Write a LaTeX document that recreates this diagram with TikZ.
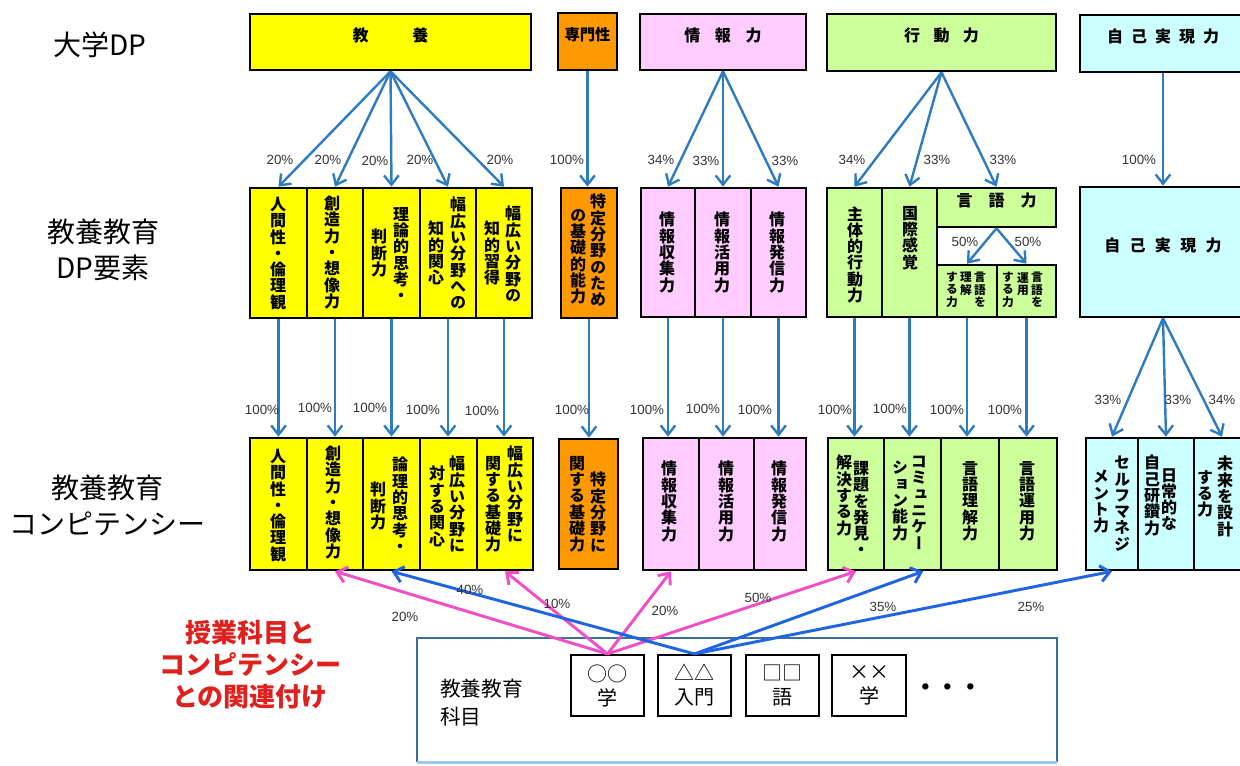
\documentclass[tikz,border=0pt]{standalone}
\usepackage{fontspec}
\setmainfont{Noto Sans CJK JP}
\newfontfamily\tatefont[RawFeature=+vert]{Noto Sans CJK JP}
\newfontfamily\pctfont{Liberation Sans}
\usetikzlibrary{arrows.meta,fit}

\ExplSyntaxOn
\NewDocumentCommand\tate{m}
 {
  \seq_clear:N \l_tmpa_seq
  \tl_map_inline:nn {#1} { \seq_put_right:Nn \l_tmpa_seq {##1} }
  \seq_use:Nn \l_tmpa_seq { \\ }
 }
\ExplSyntaxOff

\definecolor{kyel}{HTML}{FFFF00}
\definecolor{korg}{HTML}{FF9900}
\definecolor{kpnk}{HTML}{FFCCFF}
\definecolor{kgrn}{HTML}{CCFF99}
\definecolor{kcyn}{HTML}{CCFFFF}
\definecolor{arrblue}{HTML}{2E7BBF}
\definecolor{linkpink}{HTML}{F04FC6}
\definecolor{linkblue}{HTML}{1F64E0}
\definecolor{pctgray}{HTML}{333333}
\definecolor{redtxt}{HTML}{E0201C}
\definecolor{frameblue}{HTML}{3E6F9B}
\definecolor{framelight}{HTML}{9CC8EC}

\tikzset{
 box/.style={draw=black, line width=2pt, inner sep=0pt},
 vt/.style={font=\tatefont\bfseries\fontsize{12}{12.2}\selectfont, align=center, inner sep=0pt, anchor=north},
 vts/.style={font=\tatefont\bfseries\fontsize{8.8}{9.2}\selectfont, align=center, inner sep=0pt, anchor=north},
 hl/.style={font=\bfseries\fontsize{12}{14}\selectfont},
 pct/.style={font=\pctfont\fontsize{10}{12}\selectfont, text=pctgray, inner sep=0pt},
 topar/.style={draw=arrblue, line width=1.8pt, -{Straight Barb[length=7pt,width=11pt]}},
 pinkar/.style={draw=linkpink, line width=2.2pt, -{Straight Barb[length=7pt,width=12pt]}},
 bluear/.style={draw=linkblue, line width=2.2pt, -{Straight Barb[length=7pt,width=12pt]}},
 sidelbl/.style={font=\fontsize{21}{27}\selectfont, align=center},
 subj/.style={draw=black, line width=1.6pt, inner sep=0pt, font=\fontsize{15}{18}\selectfont, align=center},
}

\begin{document}
\begin{tikzpicture}[x=0.75pt,y=-0.75pt]
\useasboundingbox (0,0) rectangle (1240,765);
\clip (0,0) rectangle (1240,765);
\fill[white] (0,0) rectangle (1240,765);

% ---------- left labels
\node[sidelbl] (lblA) at (100,45) {大学DP};
\node[sidelbl] (lblB) at (103,250) {教養教育\\DP要素};
\node[sidelbl] (lblC) at (108,505) {教養教育\\コンピテンシー};

% ---------- top row
\node[box, fill=kyel, fit={(250,14) (531,70)}, hl] (kyoyo) {教\hspace{33pt}養};
\node[box, fill=korg, fit={(558,13) (617,70)}, font=\bfseries\fontsize{11.5}{13}\selectfont] (senmon) {専門性};
\node[box, fill=kpnk, fit={(640,14) (806,70)}, hl] (joho) {情\hspace{11pt}報\hspace{11pt}力};
\node[box, fill=kgrn, fit={(827,14) (1056,71)}, hl] (kodo) {行\hspace{10pt}動\hspace{10pt}力};
\node[box, fill=kcyn, fit={(1080,15) (1246,72)}, hl] (jiko) {自\hspace{6pt}己\hspace{6pt}実\hspace{6pt}現\hspace{6pt}力};

% ---------- middle row (DP elements)
\node[box, fill=kyel, fit={(250,188) (307,318)}] (m1) {};
\node[box, fill=kyel, fit={(307,188) (363,318)}] (m2) {};
\node[box, fill=kyel, fit={(363,188) (420,318)}] (m3) {};
\node[box, fill=kyel, fit={(420,188) (476,318)}] (m4) {};
\node[box, fill=kyel, fit={(476,188) (532,318)}] (m5) {};
\node[box, fill=korg, fit={(561,188) (617,318)}] (m6) {};
\node[box, fill=kpnk, fit={(641,188) (695,317)}] (m7) {};
\node[box, fill=kpnk, fit={(695,188) (751,317)}] (m8) {};
\node[box, fill=kpnk, fit={(751,188) (806,317)}] (m9) {};
\node[box, fill=kgrn, fit={(827,188) (882,317)}] (m10) {};
\node[box, fill=kgrn, fit={(882,188) (937,317)}] (m11) {};
\node[box, fill=kgrn, fit={(937,188) (1056,227)}, hl] (gen) {言\hspace{12pt}語\hspace{12pt}力};
\node[box, fill=kgrn, fit={(937,265) (997,317)}] (s1) {};
\node[box, fill=kgrn, fit={(997,265) (1056,317)}] (s2) {};
\node[box, fill=kcyn, fit={(1080,187) (1246,317)}, hl] (mj) {自\hspace{7pt}己\hspace{7pt}実\hspace{7pt}現\hspace{7pt}力};

\node[vt] (m1a) at (278,197) {\tate{人間性・倫理観}};
\node[vt] (m2a) at (332,196) {\tate{創造力・想像力}};
\node[vt] (m3a) at (401,207) {\tate{理論的思考・}};
\node[vt] (m3b) at (379,229) {\tate{判断力}};
\node[vt] (m4a) at (458,197) {\tate{幅広い分野への}};
\node[vt] (m4b) at (436,221) {\tate{知的関心}};
\node[vt] (m5a) at (513,206) {\tate{幅広い分野の}};
\node[vt] (m5b) at (492,221) {\tate{知的習得}};
\node[vt] (m6a) at (598,194) {\tate{特定分野のため}};
\node[vt] (m6b) at (578,209) {\tate{の基礎的能力}};
\node[vt] (m7a) at (667,212) {\tate{情報収集力}};
\node[vt] (m8a) at (722,212) {\tate{情報活用力}};
\node[vt] (m9a) at (777,212) {\tate{情報発信力}};
\node[vt] (m10a) at (855,206) {\tate{主体的行動力}};
\node[vt] (m11a) at (910,206) {\tate{国際感覚}};
\node[vts] (s1a) at (980,272) {\tate{言語を}};
\node[vts] (s1b) at (966,272) {\tate{理解}};
\node[vts] (s1c) at (952,272) {\tate{する力}};
\node[vts] (s2a) at (1037,272) {\tate{言語を}};
\node[vts] (s2b) at (1023,272) {\tate{運用}};
\node[vts] (s2c) at (1008,272) {\tate{する力}};

% ---------- bottom row (competencies)
\node[box, fill=kyel, fit={(250,438) (307,570)}] (b1) {};
\node[box, fill=kyel, fit={(307,438) (363,570)}] (b2) {};
\node[box, fill=kyel, fit={(363,438) (420,570)}] (b3) {};
\node[box, fill=kyel, fit={(420,438) (477,570)}] (b4) {};
\node[box, fill=kyel, fit={(477,438) (533,570)}] (b5) {};
\node[box, fill=korg, fit={(559,439) (618,569)}] (b6) {};
\node[box, fill=kpnk, fit={(643,438) (699,570)}] (b7) {};
\node[box, fill=kpnk, fit={(699,438) (754,570)}] (b8) {};
\node[box, fill=kpnk, fit={(754,438) (806,570)}] (b9) {};
\node[box, fill=kgrn, fit={(828,438) (884,570)}] (b10) {};
\node[box, fill=kgrn, fit={(884,438) (941,570)}] (b11) {};
\node[box, fill=kgrn, fit={(941,438) (999,570)}] (b12) {};
\node[box, fill=kgrn, fit={(999,438) (1057,570)}] (b13) {};
\node[box, fill=kcyn, fit={(1086,438) (1138,570)}] (b14) {};
\node[box, fill=kcyn, fit={(1138,438) (1194,570)}] (b15) {};
\node[box, fill=kcyn, fit={(1194,438) (1250,570)}] (b16) {};

\node[vt] (b1a) at (278,449) {\tate{人間性・倫理観}};
\node[vt] (b2a) at (333,446) {\tate{創造力・想像力}};
\node[vt] (b3a) at (400,457) {\tate{論理的思考・}};
\node[vt] (b3b) at (378,482) {\tate{判断力}};
\node[vt] (b4a) at (457,456) {\tate{幅広い分野に}};
\node[vt] (b4b) at (437,466) {\tate{対する関心}};
\node[vt] (b5a) at (515,446) {\tate{幅広い分野に}};
\node[vt] (b5b) at (493,456) {\tate{関する基礎力}};
\node[vt] (b6a) at (598,472) {\tate{特定分野に}};
\node[vt] (b6b) at (577,456) {\tate{関する基礎力}};
\node[vt] (b7a) at (669,461) {\tate{情報収集力}};
\node[vt] (b8a) at (726,461) {\tate{情報活用力}};
\node[vt] (b9a) at (779,461) {\tate{情報発信力}};
\node[vt] (b10a) at (861,461) {\tate{課題を発見・}};
\node[vt] (b10b) at (844,455) {\tate{解決する力}};
\node[vt] (b11a) at (919,456) {\tate{コミュニケー}};
\node[vt] (b11b) at (900,461) {\tate{ション能力}};
\node[vt] (b12a) at (970,461) {\tate{言語理解力}};
\node[vt] (b13a) at (1027,461) {\tate{言語運用力}};
\node[vt] (b14a) at (1122,456) {\tate{セルフマネジ}};
\node[vt] (b14b) at (1101,470) {\tate{メント力}};
\node[vt] (b15a) at (1169,468) {\tate{日常的な}};
\node[vt] (b15b) at (1152,455) {\tate{自己研鑽力}};
\node[vt] (b16a) at (1225,456) {\tate{未来を設計}};
\node[vt] (b16b) at (1205,470) {\tate{する力}};

% ---------- arrows top -> middle
\foreach \t in {m1,m2,m3,m4,m5} \draw[topar] (kyoyo.south) -- (\t.north);
\draw[topar] (senmon.south) -- (senmon.south |- m6.north);
\foreach \t in {m7,m8,m9} \draw[topar] (joho.south) -- (\t.north);
\foreach \t in {m10,m11,gen} \draw[topar] (kodo.south) -- (\t.north);
\draw[topar] (jiko.south) -- (jiko.south |- mj.north);
\draw[topar] (gen.south) -- (s1.north);
\draw[topar] (gen.south) -- (s2.north);

% ---------- arrows middle -> bottom
\draw[topar] (m1.south) -- (m1.south |- b1.north);
\draw[topar] (m2.south) -- (m2.south |- b2.north);
\draw[topar] (m3.south) -- (m3.south |- b3.north);
\draw[topar] (m4.south) -- (m4.south |- b4.north);
\draw[topar] (m5.south) -- (m5.south |- b5.north);
\draw[topar] (m6.south) -- (m6.south |- b6.north);
\draw[topar] (m7.south) -- (m7.south |- b7.north);
\draw[topar] (m8.south) -- (m8.south |- b8.north);
\draw[topar] (m9.south) -- (m9.south |- b9.north);
\draw[topar] (m10.south) -- (m10.south |- b10.north);
\draw[topar] (m11.south) -- (m11.south |- b11.north);
\draw[topar] (s1.south) -- (s1.south |- b12.north);
\draw[topar] (s2.south) -- (s2.south |- b13.north);
\foreach \t in {b14,b15,b16} \draw[topar] (mj.south) -- (\t.north);

% ---------- percentages
\node[pct] (p1) at (280,160) {20\%};
\node[pct] (p2) at (328,160) {20\%};
\node[pct] (p3) at (375,161) {20\%};
\node[pct] (p4) at (420,160) {20\%};
\node[pct] (p5) at (500,160) {20\%};
\node[pct] (p6) at (567,160) {100\%};
\node[pct] (p7) at (661,160) {34\%};
\node[pct] (p8) at (706,161) {33\%};
\node[pct] (p9) at (785,161) {33\%};
\node[pct] (p10) at (852,160) {34\%};
\node[pct] (p11) at (937,160) {33\%};
\node[pct] (p12) at (1003,160) {33\%};
\node[pct] (p13) at (1139,160) {100\%};
\node[pct] (p14) at (965,242) {50\%};
\node[pct] (p15) at (1028,242) {50\%};

\node[pct] (q1) at (262,410) {100\%};
\node[pct] (q2) at (315,408) {100\%};
\node[pct] (q3) at (370,408) {100\%};
\node[pct] (q4) at (423,410) {100\%};
\node[pct] (q5) at (482,411) {100\%};
\node[pct] (q6) at (572,410) {100\%};
\node[pct] (q7) at (647,410) {100\%};
\node[pct] (q8) at (703,409) {100\%};
\node[pct] (q9) at (755,410) {100\%};
\node[pct] (q10) at (835,410) {100\%};
\node[pct] (q11) at (890,409) {100\%};
\node[pct] (q12) at (947,410) {100\%};
\node[pct] (q13) at (1005,410) {100\%};
\node[pct] (q14) at (1108,400) {33\%};
\node[pct] (q15) at (1178,400) {33\%};
\node[pct] (q16) at (1222,400) {34\%};

% ---------- red caption
\node[font=\bfseries\fontsize{19.5}{24}\selectfont, text=redtxt, align=center] (red) at (250,665) {授業科目と\\コンピテンシー\\との関連付け};

% ---------- course frame
\node[fill=white, inner sep=0pt, fit={(417,638) (1057,762)}] (frame) {};
\draw[frameblue, line width=1.8pt] (frame.south west) -- (frame.north west) -- (frame.north east) -- (frame.south east);
\draw[framelight, line width=2pt] (frame.south west) -- (frame.south east);
\node[anchor=west, align=left, font=\fontsize{15.5}{21}\selectfont, inner sep=0pt] (ktitle) at (440,703) {教養教育\\科目};
\node[subj, fit={(571,655) (644,716)}] (oo) {};
\node[subj, fit={(658,655) (731,716)}] (dd) {};
\node[subj, fit={(746,655) (819,716)}] (ss) {};
\node[subj, fit={(832,655) (906,716)}] (xx) {};
\node[font=\fontsize{15}{18}\selectfont, align=center] (oot) at (oo.center) {○○\\学};
\node[font=\fontsize{15}{18}\selectfont, align=center] (ddt) at (dd.center) {△△\\入門};
\node[font=\fontsize{15}{18}\selectfont, align=center] (sst) at (ss.center) {□□\\語};
\node[font=\fontsize{15}{18}\selectfont, align=center] (xxt) at (xx.center) {××\\学};
\node[font=\bfseries\fontsize{17}{20}\selectfont] (dots) at (948,690) {・・・};

% ---------- links course -> competencies
\draw[pinkar] (oo.north) -- (b2.south);
\draw[pinkar] (oo.north) -- (b5.south);
\draw[pinkar] (oo.north) -- (b7.south);
\draw[pinkar] (oo.north) -- (b10.south);
\draw[bluear] (dd.north) -- (b3.south);
\draw[bluear] (dd.north) -- ([xshift=8pt]b11.south);
\draw[bluear] (dd.north) -- (b14.south);

\node[pct] (r1) at (405,617) {20\%};
\node[pct] (r2) at (470,590) {40\%};
\node[pct] (r3) at (557,604) {10\%};
\node[pct] (r4) at (665,611) {20\%};
\node[pct] (r5) at (758,598) {50\%};
\node[pct] (r6) at (883,607) {35\%};
\node[pct] (r7) at (1031,607) {25\%};
\end{tikzpicture}
\end{document}
